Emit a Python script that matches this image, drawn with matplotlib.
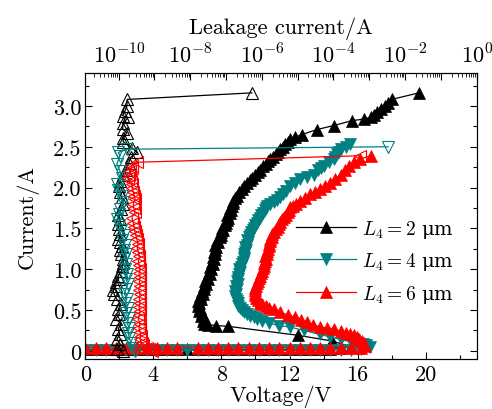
import numpy as np
import matplotlib
matplotlib.use("Agg")
import matplotlib.pyplot as plt
from matplotlib.ticker import MultipleLocator, FuncFormatter, LogLocator, NullFormatter

plt.rcParams['font.family'] = ['cmr10', 'DejaVu Serif']
plt.rcParams['mathtext.fontset'] = 'cm'
plt.rcParams['axes.formatter.use_mathtext'] = True
plt.rcParams['font.size'] = 16

# I-V curves (bottom axis: voltage / V, left axis: current / A)
# blocking part (current ~ 0) and the snapback / on-state part
black_off_v = [0.0, 0.6, 1.2, 1.8, 2.4, 3.0, 3.6, 4.2, 4.8, 5.4, 6.0, 6.6, 7.2, 7.8,
               8.4, 9.0, 9.6, 10.2, 10.8, 11.4, 12.0, 12.6, 13.2, 13.8, 14.4, 15.0, 15.6]
black_off_i = [0.02, 0.02, 0.02, 0.02, 0.02, 0.02, 0.02, 0.02, 0.02, 0.02, 0.02, 0.02, 0.02, 0.02,
               0.02, 0.02, 0.02, 0.02, 0.02, 0.02, 0.02, 0.02, 0.02, 0.02, 0.02, 0.03, 0.05]
black_on_v = [14.5, 12.5, 8.4, 7.7, 7.2, 7.0, 6.9, 6.95, 6.8, 6.85, 6.7, 6.75, 6.6, 6.7, 6.65,
              6.8, 6.75, 6.9, 6.85, 7.0, 6.95, 7.1, 7.05, 7.2, 7.15, 7.3, 7.25, 7.4, 7.35, 7.5,
              7.45, 7.55, 7.5, 7.6, 7.55, 7.65, 7.7, 7.65, 7.8, 7.75, 7.9, 7.95, 8.0, 8.1, 8.05,
              8.2, 8.25, 8.3, 8.4, 8.35, 8.5, 8.55, 8.5, 8.6, 8.65, 8.7, 8.8, 8.9, 9.05, 9.2,
              9.35, 9.5, 9.65, 9.8, 10.0, 10.15, 10.28, 10.45, 10.6, 10.75, 10.87, 11.05, 11.2,
              11.35, 11.46, 11.6, 11.75, 11.9, 12.05, 12.35, 12.74, 13.6, 14.6, 15.68, 16.4,
              16.76, 16.95, 17.15, 17.4, 17.64, 17.8, 18.0, 19.6]
black_on_i = [0.12, 0.19, 0.30, 0.31, 0.32, 0.33, 0.37, 0.40, 0.43, 0.46, 0.49, 0.52, 0.55, 0.58,
              0.61, 0.64, 0.67, 0.70, 0.73, 0.76, 0.79, 0.82, 0.85, 0.88, 0.91, 0.94, 0.97, 1.00,
              1.03, 1.06, 1.09, 1.12, 1.15, 1.18, 1.21, 1.24, 1.27, 1.30, 1.33, 1.36, 1.39, 1.42,
              1.45, 1.48, 1.51, 1.54, 1.57, 1.60, 1.63, 1.66, 1.69, 1.72, 1.75, 1.78, 1.81, 1.84,
              1.87, 1.90, 1.94, 1.98, 2.02, 2.06, 2.09, 2.12, 2.16, 2.19, 2.22, 2.26, 2.29, 2.32,
              2.35, 2.38, 2.41, 2.44, 2.47, 2.50, 2.53, 2.56, 2.59, 2.62, 2.65, 2.71, 2.76, 2.82,
              2.84, 2.86, 2.89, 2.92, 2.96, 3.00, 3.04, 3.08, 3.16]

teal_off_v = [0.0, 0.6, 1.2, 1.8, 2.4, 3.0, 3.6, 4.2, 4.8, 5.4, 6.0, 6.6, 7.2, 7.8,
              8.4, 9.0, 9.6, 10.2, 10.8, 11.4, 12.0, 12.6, 13.2, 13.8, 14.4, 15.0, 15.6, 16.2, 16.75]
teal_off_i = [0.005, 0.005, 0.005, 0.005, 0.005, 0.005, 0.005, 0.005, 0.005, 0.005, 0.005, 0.005,
              0.005, 0.005, 0.005, 0.005, 0.005, 0.005, 0.005, 0.005, 0.005, 0.005, 0.005, 0.005,
              0.005, 0.005, 0.01, 0.02, 0.05]
teal_on_v = [16.5, 16.3, 15.9, 15.6, 15.0, 14.4, 13.8, 12.83, 12.05, 11.36, 10.8, 10.38, 10.1,
             9.9, 9.7, 9.5, 9.35, 9.2, 9.1, 9.0, 8.95, 8.9, 8.85, 8.8, 8.85, 8.8, 8.9, 8.85,
             8.95, 8.9, 9.0, 8.95, 9.05, 9.1, 9.05, 9.15, 9.2, 9.25, 9.3, 9.35, 9.3, 9.4, 9.45,
             9.4, 9.5, 9.55, 9.5, 9.6, 9.7, 9.75, 9.85, 9.9, 10.0, 10.1, 10.15, 10.25, 10.35,
             10.45, 10.55, 10.6, 10.7, 10.85, 11.07, 11.25, 11.46, 11.6, 11.8, 12.05, 12.35,
             12.64, 13.0, 13.43, 13.7, 13.85, 14.0, 14.3, 14.6, 14.7, 14.8, 14.9, 15.0, 15.3, 15.58]
teal_on_i = [0.07, 0.08, 0.10, 0.11, 0.14, 0.17, 0.20, 0.25, 0.29, 0.31, 0.34, 0.37, 0.39,
             0.41, 0.43, 0.45, 0.48, 0.50, 0.53, 0.55, 0.58, 0.61, 0.64, 0.67, 0.70, 0.73, 0.76, 0.79,
             0.82, 0.85, 0.88, 0.91, 0.94, 0.97, 1.00, 1.03, 1.06, 1.09, 1.12, 1.15, 1.18, 1.21, 1.24,
             1.27, 1.30, 1.33, 1.36, 1.39, 1.42, 1.45, 1.48, 1.51, 1.54, 1.57, 1.60, 1.63, 1.66,
             1.69, 1.72, 1.75, 1.78, 1.80, 1.82, 1.85, 1.88, 1.92, 1.96, 2.02, 2.06,
             2.10, 2.13, 2.16, 2.21, 2.24, 2.27, 2.31, 2.35, 2.38, 2.41, 2.44, 2.47, 2.50, 2.53]

red_off_v = [0.0, 0.6, 1.2, 1.8, 2.4, 3.0, 3.6, 4.2, 4.8, 5.4, 6.6, 7.2, 7.8, 8.4, 9.0, 9.6,
             10.2, 10.8, 11.4, 12.0, 12.6, 13.2, 13.8, 14.4, 15.0, 15.6, 16.2]
red_off_i = [0.04, 0.04, 0.04, 0.04, 0.04, 0.04, 0.04, 0.04, 0.04, 0.04, 0.04, 0.04, 0.04, 0.04,
             0.04, 0.04, 0.04, 0.04, 0.04, 0.04, 0.04, 0.04, 0.04, 0.04, 0.04, 0.04, 0.04]
red_on_v = [16.46, 16.35, 16.27, 16.1, 15.97, 15.8, 15.58, 15.3, 15.0, 14.6, 14.2, 13.8, 13.4,
            13.03, 12.7, 12.34, 11.9, 11.46, 11.07, 10.8, 10.6, 10.4, 10.28, 10.15, 10.05, 10.0,
            9.95, 10.0, 9.95, 10.05, 10.1, 10.15, 10.2, 10.28, 10.3, 10.4, 10.45, 10.5, 10.5,
            10.55, 10.6, 10.58, 10.65, 10.7, 10.75, 10.8, 10.8, 10.85, 10.87, 10.95, 11.0, 11.1,
            11.2, 11.3, 11.4, 11.46, 11.55, 11.7, 11.8, 11.9, 11.95, 12.05, 12.2, 12.4, 12.64,
            12.9, 13.2, 13.5, 13.8, 14.1, 14.4, 14.7, 15.0, 15.25, 15.5, 15.8, 16.17, 16.76]
red_on_i = [0.06, 0.09, 0.12, 0.15, 0.17, 0.19, 0.20, 0.22, 0.24, 0.27, 0.28, 0.29, 0.32,
            0.35, 0.38, 0.41, 0.44, 0.47, 0.51, 0.53, 0.55, 0.57, 0.59, 0.62, 0.65, 0.68,
            0.71, 0.74, 0.77, 0.80, 0.83, 0.86, 0.89, 0.92, 0.95, 0.98, 1.01, 1.04, 1.07,
            1.10, 1.13, 1.16, 1.19, 1.22, 1.25, 1.28, 1.31, 1.34, 1.37, 1.40, 1.43, 1.46,
            1.49, 1.52, 1.55, 1.58, 1.61, 1.64, 1.67, 1.70, 1.73, 1.76, 1.78, 1.80, 1.83,
            1.87, 1.92, 1.95, 1.98, 2.02, 2.06, 2.11, 2.16, 2.21, 2.27, 2.31, 2.35, 2.39]

# leakage current (top axis, log10 A) against current
black_leak_i = [0.00, 0.02, 0.08, 0.14, 0.20, 0.27, 0.33, 0.39, 0.45, 0.51, 0.57, 0.63, 0.69,
                0.74, 0.79, 0.84, 0.88, 0.92, 0.98, 1.04, 1.08, 1.12, 1.18, 1.24, 1.29, 1.33,
                1.37, 1.43, 1.49, 1.55, 1.61, 1.67, 1.74, 1.80, 1.88, 1.95, 2.02, 2.08, 2.15,
                2.22, 2.30, 2.37, 2.43, 2.49, 2.56, 2.61, 2.67, 2.72, 2.79, 2.86, 2.88, 2.94,
                3.00, 3.08, 3.16]
black_leak_log = [-9.87, -10.05, -9.95, -10.05, -9.97, -10.01, -9.93, -10.08, -9.98, -10.01,
                  -9.94, -10.05, -10.12, -10.16, -10.08, -10.07, -10.00, -10.01, -9.92, -9.91,
                  -9.88, -9.87, -9.93, -9.96, -9.91, -9.97, -10.01, -9.95, -9.99, -10.02, -9.96,
                  -10.01, -9.92, -9.87, -9.91, -9.95, -9.99, -9.96, -9.88, -9.80, -9.72, -9.66,
                  -9.49, -9.63, -9.87, -9.87, -9.77, -9.89, -9.87, -9.73, -9.89, -9.82, -9.77,
                  -9.76, -6.28]

teal_leak_i = [0.00, 0.04, 0.10, 0.16, 0.22, 0.28, 0.34, 0.40, 0.46, 0.52, 0.58, 0.64, 0.70,
               0.76, 0.82, 0.88, 0.94, 1.00, 1.06, 1.12, 1.18, 1.24, 1.30, 1.36, 1.42, 1.48,
               1.54, 1.61, 1.68, 1.74, 1.82, 1.90, 1.97, 2.04, 2.12, 2.20, 2.29, 2.39, 2.43,
               2.47, 2.50]
teal_leak_log = [-9.55, -9.62, -9.66, -9.70, -9.74, -9.70, -9.77, -9.72, -9.80, -9.75, -9.82,
                 -9.77, -9.84, -9.79, -9.74, -9.80, -9.76, -9.82, -9.78, -9.84, -9.80, -9.86,
                 -9.82, -9.90, -9.86, -9.93, -9.98, -10.05, -9.98, -9.96, -9.87, -9.91, -10.01,
                 -10.05, -9.91, -9.96, -10.05, -9.96, -10.01, -9.77, -2.47]

red_leak_i = [0.00, 0.02, 0.04, 0.07, 0.10, 0.14, 0.18, 0.23, 0.28, 0.33, 0.39, 0.44, 0.49,
              0.54, 0.59, 0.64, 0.70, 0.75, 0.80, 0.85, 0.90, 0.95, 1.00, 1.05, 1.10, 1.16,
              1.21, 1.26, 1.31, 1.37, 1.42, 1.47, 1.52, 1.57, 1.63, 1.70, 1.75, 1.80, 1.86,
              1.90, 1.94, 1.99, 2.04, 2.08, 2.12, 2.16, 2.20, 2.24, 2.27, 2.31, 2.39]
red_leak_log = [-9.08, -9.15, -9.22, -9.32, -9.36, -9.40, -9.38, -9.40, -9.43, -9.41, -9.45,
                -9.42, -9.40, -9.43, -9.40, -9.42, -9.40, -9.44, -9.40, -9.42, -9.40, -9.43,
                -9.40, -9.43, -9.45, -9.42, -9.45, -9.48, -9.46, -9.49, -9.52, -9.55, -9.57,
                -9.59, -9.63, -9.54, -9.58, -9.59, -9.54, -9.56, -9.59, -9.62, -9.63, -9.66,
                -9.73, -9.70, -9.68, -9.64, -9.63, -9.49, -3.26]

labels = [r'$L_4=2$ μm', r'$L_4=4$ μm', r'$L_4=6$ μm']
colors = ['black', '#008080', '#ff0000']

fig = plt.figure(figsize=(4.92, 4.10), dpi=100)
ax = fig.add_axes([0.1734, 0.122, 0.7955, 0.6968])

ms = 9
ax.plot(black_off_v + black_on_v, black_off_i + black_on_i, '-^', color=colors[0],
        ms=ms, lw=0.9, mew=0.5, label=labels[0])
ax.plot(teal_off_v + teal_on_v, teal_off_i + teal_on_i, '-v', color=colors[1],
        ms=ms, lw=0.9, mew=0.5, label=labels[1])
ax.plot(red_off_v + red_on_v, red_off_i + red_on_i, '-^', color=colors[2],
        ms=ms, lw=0.9, mew=0.5, label=labels[2])

ax.set_xlim(0, 23)
ax.set_ylim(-0.1, 3.4)
ax.xaxis.set_major_locator(MultipleLocator(4))
ax.xaxis.set_minor_locator(MultipleLocator(2))
ax.yaxis.set_major_locator(MultipleLocator(0.5))
ax.yaxis.set_minor_locator(MultipleLocator(0.25))
ax.yaxis.set_major_formatter(FuncFormatter(lambda v, p: '0' if abs(v) < 1e-9 else f'{v:.1f}'))
ax.xaxis.set_major_formatter(FuncFormatter(lambda v, p: f'{v:.0f}'))
ax.tick_params(which='both', direction='in', right=True, top=False)
ax.tick_params(which='major', length=5, width=0.8)
ax.tick_params(which='minor', length=3, width=0.8)
ax.tick_params(axis='x', pad=4)
ax.tick_params(axis='y', pad=3)
ax.set_xlabel('Voltage/V', labelpad=0)
ax.set_ylabel('Current/A', labelpad=10)

leg = ax.legend(loc='upper left', bbox_to_anchor=(0.538, 0.495), frameon=False,
                borderpad=0, borderaxespad=0, handlelength=3.1, handletextpad=0.3,
                labelspacing=0.55, prop={'family': 'DejaVu Serif', 'size': 14})

# leakage current on the top axis
ax2 = ax.twiny()
ax2.plot(10.0 ** np.array(black_leak_log), black_leak_i, '-^', color=colors[0],
         mfc='none', ms=8.5, lw=0.9, mew=0.8)
ax2.plot(10.0 ** np.array(teal_leak_log), teal_leak_i, '-v', color=colors[1],
         mfc='none', ms=8.5, lw=0.9, mew=0.8)
ax2.plot(10.0 ** np.array(red_leak_log), red_leak_i, '-<', color=colors[2],
         mfc='none', ms=8.5, lw=0.9, mew=0.8)
ax2.set_xscale('log')
ax2.set_xlim(10 ** -10.93, 1)
ax2.xaxis.set_major_locator(LogLocator(base=10, numticks=30))
ax2.xaxis.set_minor_locator(LogLocator(base=10, subs=np.arange(2, 10), numticks=30))
ax2.xaxis.set_minor_formatter(NullFormatter())


def top_fmt(v, p):
    e = int(round(np.log10(v)))
    if e % 2 == 0:
        return r'$10^{%d}$' % e
    return ''


ax2.xaxis.set_major_formatter(FuncFormatter(top_fmt))
ax2.tick_params(which='both', direction='in', pad=5)
ax2.tick_params(which='major', length=5, width=0.8)
ax2.tick_params(which='minor', length=3, width=0.6)
ax2.set_xlabel('Leakage current/A', labelpad=7)

fig.savefig('out.png', dpi=100)
